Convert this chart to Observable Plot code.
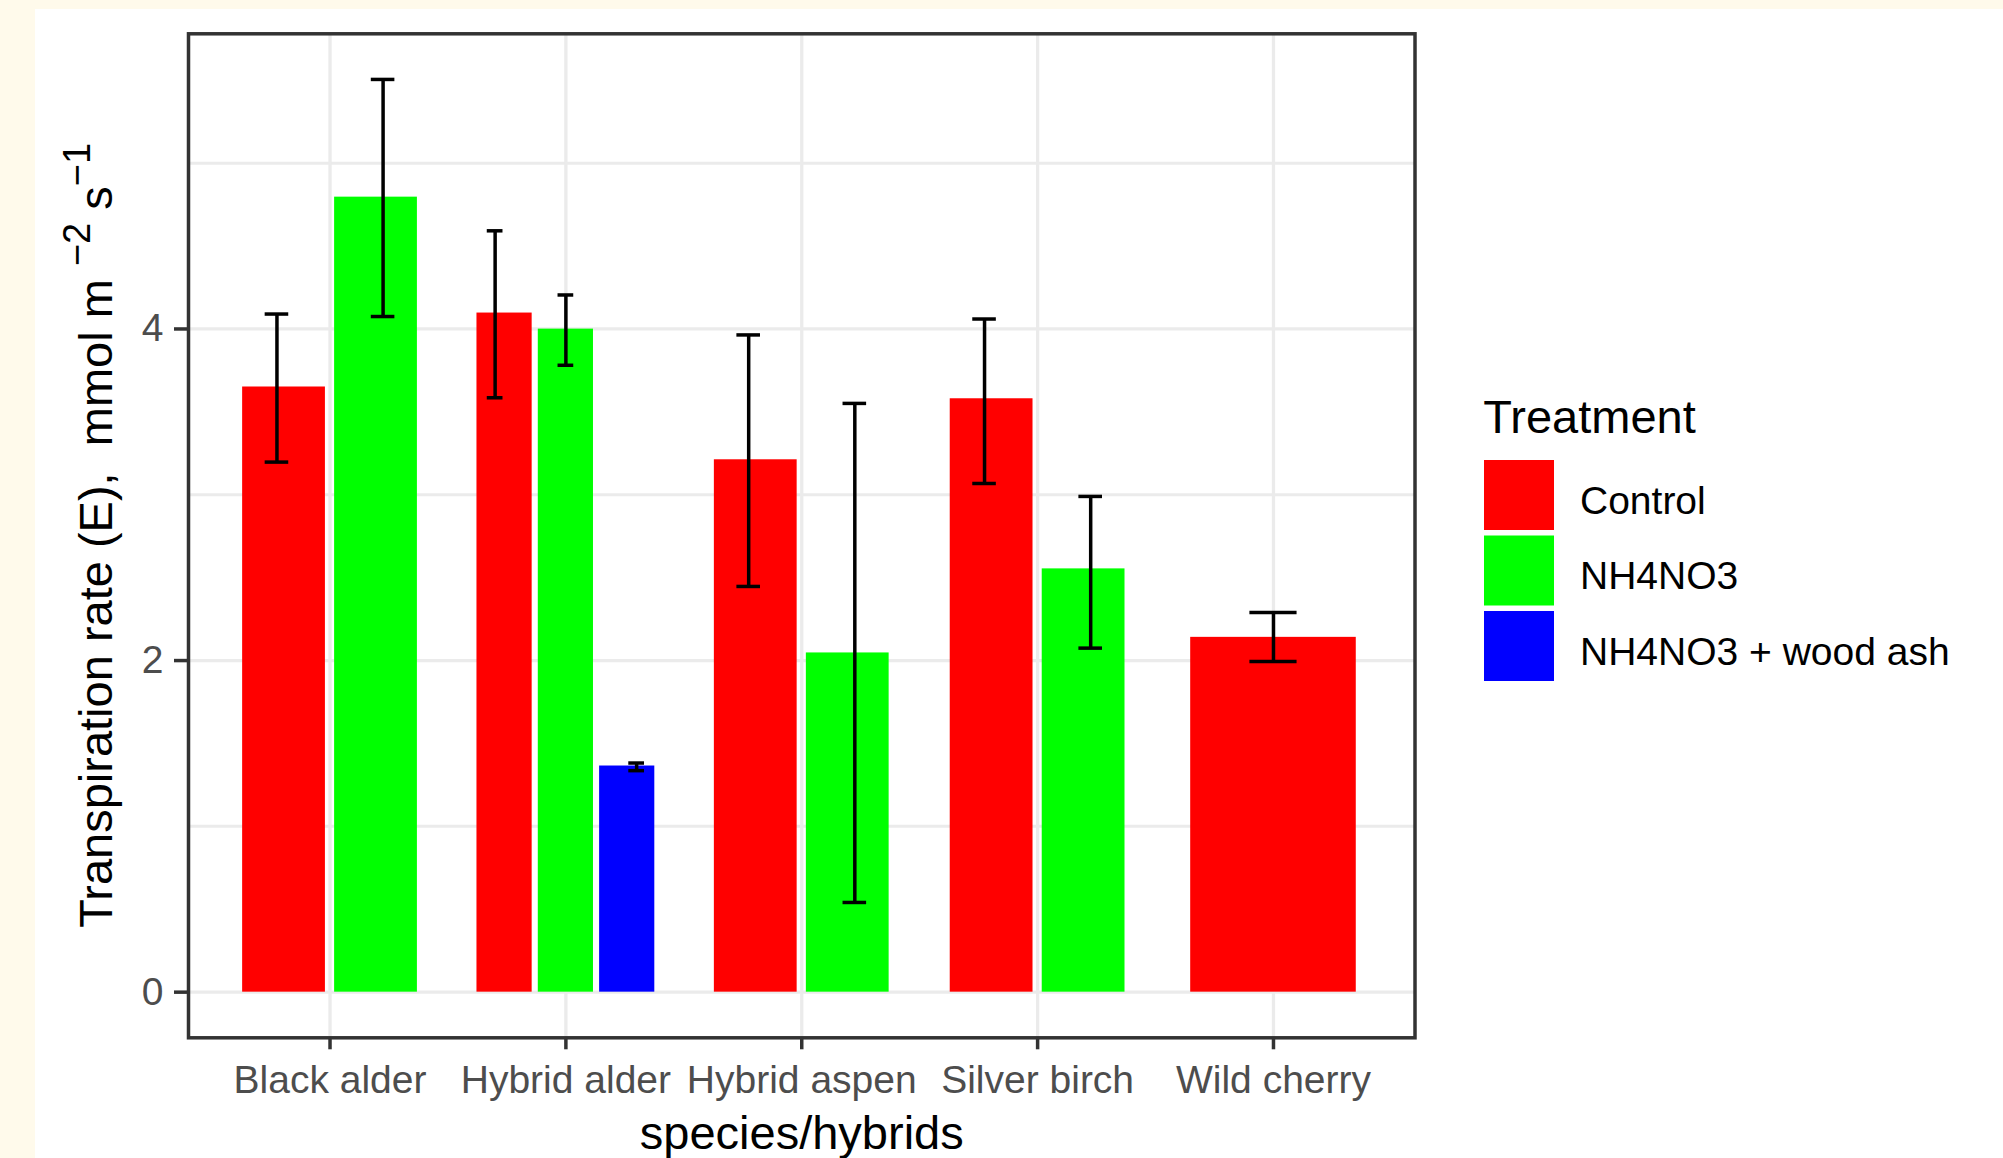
<!DOCTYPE html>
<html>
<head>
<meta charset="utf-8">
<script src="https://cdn.jsdelivr.net/npm/d3@7"></script>
<script src="https://cdn.jsdelivr.net/npm/@observablehq/plot@0.6"></script>
<style>
  html, body { margin: 0; padding: 0; background: #FFFAEB; width: 2003px; height: 1158px; overflow: hidden; }
  #chart { position: absolute; left: 35px; top: 9px; width: 1968px; height: 1149px; background: #ffffff; }
  #chart svg { display: block; }
</style>
</head>
<body>
<div id="chart"></div>
<script>
// ---------- data ----------
const species = ["Black alder", "Hybrid alder", "Hybrid aspen", "Silver birch", "Wild cherry"];
const treatments = ["Control", "NH4NO3", "NH4NO3 + wood ash"];
const treatmentColors = ["#FF0000", "#00FF00", "#0000FF"];

const rowSpecies   = ["Black alder", "Black alder", "Hybrid alder", "Hybrid alder", "Hybrid alder", "Hybrid aspen", "Hybrid aspen", "Silver birch", "Silver birch", "Wild cherry"];
const rowTreatment = ["Control", "NH4NO3", "Control", "NH4NO3", "NH4NO3 + wood ash", "Control", "NH4NO3", "Control", "NH4NO3", "Control"];
const meanE = [3.650, 4.795, 4.096, 3.999, 1.364, 3.211, 2.046, 3.579, 2.553, 2.140];
const lowE  = [3.197, 4.075, 3.585, 3.781, 1.336, 2.447, 0.541, 3.068, 2.075, 1.995];
const highE = [4.090, 5.505, 4.592, 4.205, 1.382, 3.964, 3.551, 4.060, 2.990, 2.290];

const yMajorTicks = [0, 2, 4];
const yMinorTicks = [1, 3, 5];
const xTitle = "species/hybrids";
const yTitle = "Transpiration rate (E),  mmol m ";
const legendTitle = "Treatment";

// ---------- dodge layout (like ggplot position_dodge2 / position_dodge) ----------
const rows = meanE.map((v, k) => ({
  species: rowSpecies[k], treatment: rowTreatment[k], mean: v, low: lowE[k], high: highE[k], zero: 0
}));
const barGroupWidth = 0.78, barPadding = 0.1, errDodge = 0.9, errWidth = 0.2;
for (const [sp, g] of d3.group(rows, d => d.species)) {
  const i = species.indexOf(sp) + 1, n = g.length;
  const slot = barGroupWidth / n;
  g.forEach((d, j) => {
    const c = i - barGroupWidth / 2 + slot * (j + 0.5);
    d.x1 = c - slot * (1 - barPadding) / 2;
    d.x2 = c + slot * (1 - barPadding) / 2;
    const ec = i + (j - (n - 1) / 2) * errDodge / n;
    d.ex = ec;
    d.ex1 = ec - errWidth / n / 2;
    d.ex2 = ec + errWidth / n / 2;
  });
}

const ymax = d3.max(highE);
const W = 1968, H = 1149;
const mL = 153, mR = 588.5, mT = 24.3, mB = 120.7;
const font = "'Liberation Sans', Arial, Helvetica, sans-serif";

const plot = Plot.plot({
  width: W, height: H,
  marginLeft: mL, marginRight: mR, marginTop: mT, marginBottom: mB,
  style: { fontFamily: font, background: "#ffffff", overflow: "visible" },
  x: { type: "linear", domain: [0.4, species.length + 0.6], axis: null },
  y: { domain: [-0.05 * ymax, 1.05 * ymax], axis: null },
  color: { domain: treatments, range: treatmentColors },
  marks: [
    Plot.ruleY(yMinorTicks, { stroke: "#EBEBEB", strokeWidth: 3 }),
    Plot.ruleY(yMajorTicks, { stroke: "#EBEBEB", strokeWidth: 3.3 }),
    Plot.ruleX(d3.range(1, species.length + 1), { stroke: "#EBEBEB", strokeWidth: 3.3 }),
    Plot.rect(rows, { x1: "x1", x2: "x2", y1: "zero", y2: "mean", fill: "treatment" }),
    Plot.ruleX(rows, { x: "ex", y1: "low", y2: "high", stroke: "black", strokeWidth: 3.5 }),
    Plot.ruleY(rows, { y: "low", x1: "ex1", x2: "ex2", stroke: "black", strokeWidth: 3.5 }),
    Plot.ruleY(rows, { y: "high", x1: "ex1", x2: "ex2", stroke: "black", strokeWidth: 3.5 }),
    Plot.frame({ stroke: "#333333", strokeWidth: 3.5 }),
    Plot.axisX(d3.range(1, species.length + 1), {
      tickFormat: d => species[d - 1], tickSize: 12, tickPadding: 15,
      fontSize: 39, fill: "#4D4D4D", stroke: "#333333", strokeWidth: 3.5, label: null
    }),
    Plot.axisY(yMajorTicks, {
      tickFormat: d => String(d), tickSize: 14, tickPadding: 11,
      fontSize: 39, fill: "#4D4D4D", stroke: "#333333", strokeWidth: 3.5, label: null
    }),
    Plot.text([xTitle], { text: d => d, frameAnchor: "bottom", dy: 96, lineAnchor: "middle", fontSize: 47, fill: "black" })
  ]
});

document.getElementById("chart").appendChild(plot);

const svg = d3.select(plot);
const color = plot.scale("color");

// y axis title with superscripts
const cy = (mT + (H - mB)) / 2;
const yt = svg.append("text")
  .attr("transform", `translate(77,${cy}) rotate(-90)`)
  .attr("text-anchor", "middle")
  .attr("font-family", font)
  .attr("font-size", 47)
  .attr("fill", "black")
  .style("white-space", "pre");
yt.append("tspan").text(yTitle);
yt.append("tspan").attr("dy", -22).attr("font-size", 38).text("\u22122");
yt.append("tspan").attr("dy", 22).text(" s");
yt.append("tspan").attr("dy", -22).attr("font-size", 38).text("\u22121");

// legend
const lg = svg.append("g").attr("font-family", font).attr("fill", "black").attr("text-anchor", "start");
lg.append("text").attr("x", 1448.3).attr("y", 424.3).attr("font-size", 47).text(legendTitle);
treatments.forEach((t, i) => {
  const top = 451 + i * 75.5;
  lg.append("rect").attr("x", 1449).attr("y", top).attr("width", 70).attr("height", 70).attr("fill", color.apply(t));
  lg.append("text").attr("x", 1545).attr("y", top + 35 + 18.5).attr("font-size", 39).text(t);
});
</script>
</body>
</html>
